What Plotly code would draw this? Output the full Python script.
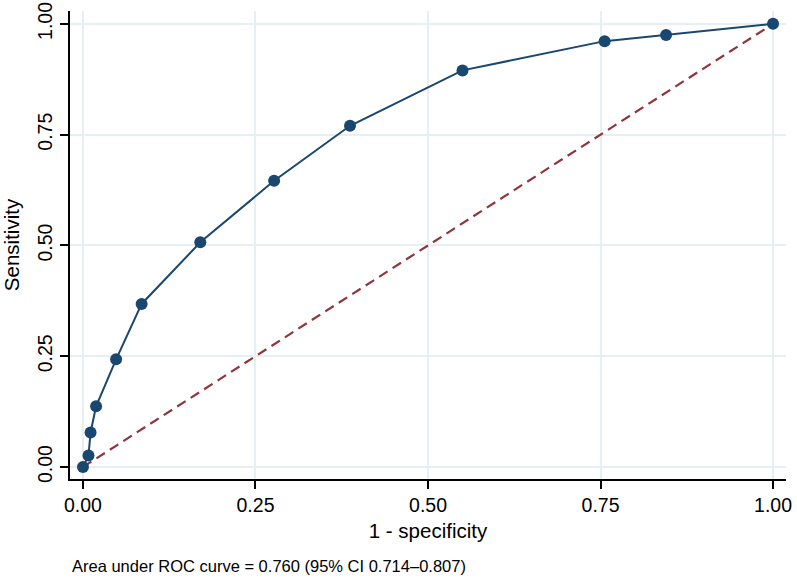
import plotly.graph_objects as go

fpr = [0.0, 0.008, 0.011, 0.019, 0.048, 0.085, 0.170, 0.277, 0.387, 0.550, 0.756, 0.845, 1.0]
tpr = [0.0, 0.026, 0.078, 0.137, 0.243, 0.368, 0.507, 0.646, 0.770, 0.895, 0.961, 0.975, 1.0]
ref_x = [0.0, 1.0]
ref_y = [0.0, 1.0]
tick_vals = [0, 0.25, 0.5, 0.75, 1.0]
tick_text = ["0.00", "0.25", "0.50", "0.75", "1.00"]
note = "Area under ROC curve = 0.760 (95% CI 0.714\u20130.807)"

FONT = "Liberation Sans, Arial, sans-serif"
NAVY = "#1a476f"
MAROON = "#90353b"
GRID = "#e6eff1"

fig = go.Figure()
fig.add_trace(go.Scatter(x=ref_x, y=ref_y, mode="lines",
                         line=dict(color=MAROON, width=2.2, dash="10px,6px"),
                         showlegend=False, hoverinfo="skip"))
fig.add_trace(go.Scatter(x=fpr, y=tpr, mode="lines+markers",
                         line=dict(color=NAVY, width=2),
                         marker=dict(color=NAVY, size=12),
                         showlegend=False))

axis_common = dict(
    tickvals=tick_vals, ticktext=tick_text, automargin=False,
    showgrid=True, gridcolor=GRID, gridwidth=1.5,
    zeroline=False, showline=True, linecolor="#000000", linewidth=1.5,
    ticks="outside", ticklen=8, tickwidth=1.5, tickcolor="#000000",
    tickfont=dict(family=FONT, size=19.5, color="#000"),
)
fig.update_xaxes(range=[-0.0188, 1.0188],
                 title=dict(text="1 - specificity", font=dict(family=FONT, size=20.5, color="#000"), standoff=8),
                 **axis_common)
fig.update_yaxes(range=[-0.027, 1.029], tickangle=-90,
                 title=dict(text="Sensitivity", font=dict(family=FONT, size=20.5, color="#000"), standoff=10),
                 **axis_common)

fig.add_annotation(text=note, xref="paper", yref="paper", x=0, y=-0.185,
                   xanchor="left", yanchor="middle", showarrow=False,
                   font=dict(family=FONT, size=16.5, color="#000"))

fig.update_layout(
    width=797, height=579,
    margin=dict(l=70, r=11, t=11, b=100),
    paper_bgcolor="white", plot_bgcolor="white",
)
fig.write_html("out.html")
